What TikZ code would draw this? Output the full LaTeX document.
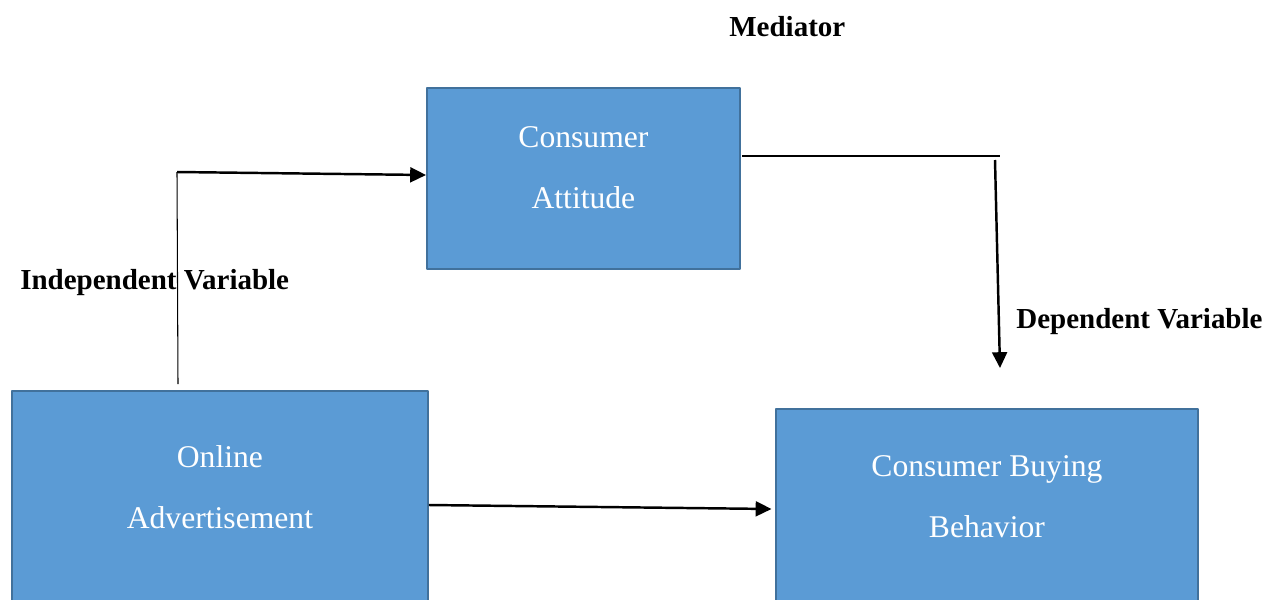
\documentclass[tikz,border=0pt]{standalone}
\usepackage{fontspec}
\setmainfont{Liberation Serif}
\usetikzlibrary{arrows.meta}
\definecolor{boxblue}{HTML}{5B9BD5}
\definecolor{boxedge}{HTML}{41719C}

\begin{document}
\begin{tikzpicture}[x=0.02cm, y=-0.02cm, line join=round, >={Triangle[length=9pt,width=8.5pt]},
	varbox/.style={draw=boxedge, fill=boxblue, line width=1.1pt, text=white, align=center, anchor=north west, inner sep=0pt, font=\fontsize{18}{35.2}\selectfont},
	varlabel/.style={anchor=base west, inner sep=0pt, font=\fontsize{16.5}{20}\selectfont\bfseries},
	link/.style={line width=0.6pt},
	flow/.style={line width=1.4pt, ->}]
	\useasboundingbox (0,0) rectangle (1278,599);
	\clip (0,0) rectangle (1278,599);
	%
	\node [varbox, text height=2.42cm, text depth=1.2cm, minimum width=6.26cm] (att) at (426,87) {Consumer\\Attitude};
	\node [varbox, text height=2.76cm, text depth=3cm, minimum width=8.32cm] (onl) at (11,390) {Online\\Advertisement};
	\node [varbox, text height=2.58cm, text depth=3cm, minimum width=8.44cm] (cbb) at (775,408) {Consumer Buying\\Behavior};
	%
	\node [varlabel] (med) at (729,36) {Mediator};
	\node [varlabel] (ivar) at (20,289) {Independent Variable};
	\node [varlabel] (dvar) at (1016,328) {Dependent Variable};
	%
	\coordinate (ivbot) at (178,384);
	\coordinate (ivtop) at (177,172);
	\coordinate (attin) at (att.west |- 0,175);
	\coordinate (medout) at (742,156);
	\coordinate (medend) at (1000,156);
	\coordinate (dvtop) at (995,160);
	\coordinate (dvtip) at (1000,368);
	\coordinate (onlout) at (onl.east |- 0,505);
	\coordinate (cbbin) at ([xshift=-2]cbb.west |- 0,509);
	%
	\draw [link] (ivbot) -- (ivtop);
	\draw [flow] (ivtop) -- (attin);
	\draw [link] (medout) -- (medend);
	\draw [flow] (dvtop) -- (dvtip);
	\draw [flow] (onlout) -- (cbbin);
\end{tikzpicture}
\end{document}
